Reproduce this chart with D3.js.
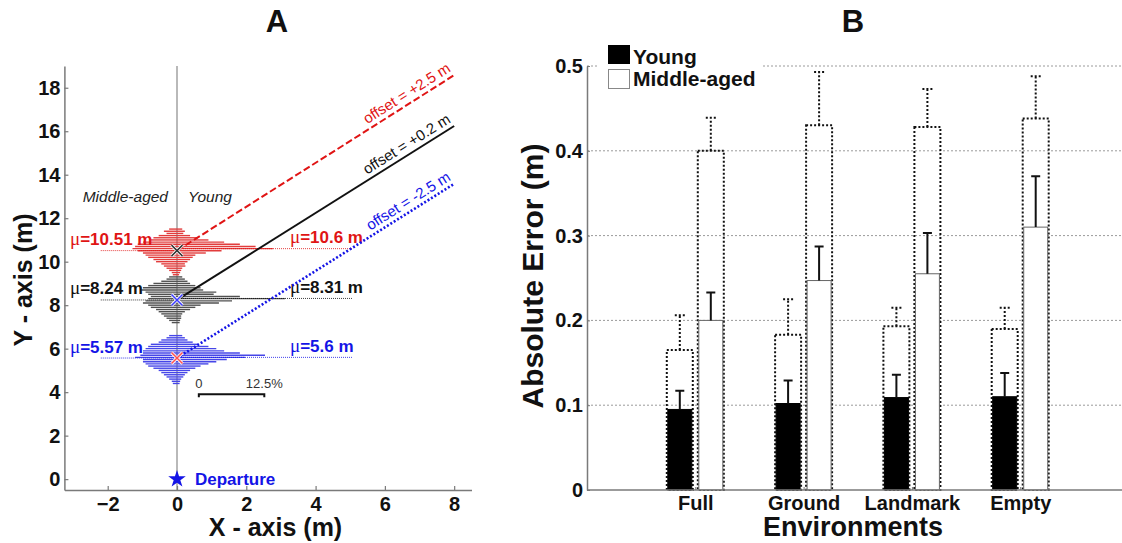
<!DOCTYPE html>
<html>
<head>
<meta charset="utf-8">
<script src="https://cdn.jsdelivr.net/npm/d3@7"></script>
<style>
  body { margin: 0; background: #fff; }
  svg { display: block; }
  text { font-family: "Liberation Sans", Arial, Helvetica, sans-serif; }
</style>
</head>
<body>
<svg id="chart" width="1122" height="543"></svg>
<script>
// ================= Panel A: stopping-point distributions =================
// Histogram bins (m along Y axis) and share of trials (%) per age group
const farBins    = [11.5,11.4,11.3,11.2,11.1,11.0,10.9,10.8,10.7,10.6,10.5,10.4,10.3,10.2,10.1,10.0,9.9,9.8,9.7,9.6,9.5,9.4];
const farYoung   = [1.0,1.5,1.2,2.5,4.0,6.0,9.0,12.0,15.0,18.3,8.5,5.5,3.5,3.0,2.5,2.0,1.5,1.6,1.0,0.8,0.6,0.4];
const farMiddle  = [1.5,2.5,2.0,3.5,4.5,5.0,6.5,7.5,8.0,8.5,7.5,6.5,6.0,5.5,4.5,4.0,3.0,2.5,2.0,1.5,1.0,0.8];

const midBins    = [9.3,9.2,9.1,9.0,8.9,8.8,8.7,8.6,8.5,8.4,8.3,8.2,8.1,8.0,7.9,7.8,7.7,7.6,7.5,7.4,7.3,7.2];
const midYoung   = [1.0,1.5,2.0,2.5,3.5,4.5,5.0,7.5,7.0,12.0,20.6,10.5,8.0,4.5,3.5,2.5,1.5,1.0,0.8,0.8,0.6,0.5];
const midMiddle  = [1.5,2.0,3.0,4.5,5.5,6.5,6.8,6.0,5.5,5.0,5.5,6.0,6.5,5.5,5.0,4.0,3.5,3.0,2.5,2.0,1.5,1.0];

const nearBins   = [6.6,6.5,6.4,6.3,6.2,6.1,6.0,5.9,5.8,5.7,5.6,5.5,5.4,5.3,5.2,5.1,5.0,4.9,4.8,4.7,4.6,4.5,4.4];
const nearYoung  = [1.0,1.5,2.0,3.0,4.0,6.0,7.5,9.0,12.0,16.8,13.0,9.5,7.5,6.0,4.5,3.5,2.5,2.0,1.5,1.2,0.8,0.6,0.5];
const nearMiddle = [1.5,2.0,3.0,3.5,5.0,5.5,6.0,6.5,6.5,7.0,8.0,6.5,6.5,6.0,5.5,4.5,3.5,3.0,2.5,2.0,1.5,1.0,0.8];

// Means (m) for each group, and the guide line drawn from each mean
const meansMiddle  = [10.51, 8.24, 5.57];
const meansYoung   = [10.6, 8.31, 5.6];
const labelsMiddle = ["10.51 m", "8.24 m", "5.57 m"];
const labelsYoung  = ["10.6 m", "8.31 m", "5.6 m"];
const guideEndY    = [18.58, 16.24, 13.58];   // y at x = 8 m
const offsetLabels = ["offset = +2.5 m", "offset = +0.2 m", "offset = -2.5 m"];

const ticksAX = [-2, 0, 2, 4, 6, 8];
const ticksAY = [0, 2, 4, 6, 8, 10, 12, 14, 16, 18];

// ================= Panel B: absolute error by environment =================
const environments     = ["Full", "Ground", "Landmark", "Empty"];
const youngMean        = [0.095, 0.102, 0.109, 0.110];
const youngSE          = [0.022, 0.027, 0.027, 0.028];
const youngMeanOutline = [0.165, 0.183, 0.193, 0.190];
const youngSEOutline   = [0.041, 0.042, 0.022, 0.025];
const middleMean        = [0.200, 0.247, 0.255, 0.310];
const middleSE          = [0.033, 0.040, 0.048, 0.060];
const middleMeanOutline = [0.400, 0.430, 0.428, 0.438];
const middleSEOutline   = [0.039, 0.063, 0.045, 0.050];
const ticksB      = [0, 0.1, 0.2, 0.3, 0.4, 0.5];
const tickLabelsB = ["0", "0.1", "0.2", "0.3", "0.4", "0.5"];

// ---------------------------------------------------------------------------
const svg = d3.select("#chart");
const RED = "#e01414", BLUE = "#1414e6", BLACK = "#111";
const AXIS = "#7a7a7a";

// ---------- Panel A ----------
const xA = d3.scaleLinear().domain([-3.25, 8.5]).range([64.4, 471.5]);
const yA = d3.scaleLinear().domain([-0.5, 19]).range([490, 66]);
// histogram length: 12.5 % of trials spans 1.89 m on the X axis
const hx = d3.scaleLinear().domain([0, 12.5]).range([0, 1.89]);

const gA = svg.append("g");

// central walking line (x = 0)
gA.append("line")
  .attr("x1", xA(0)).attr("x2", xA(0))
  .attr("y1", yA(19)).attr("y2", yA(-0.5))
  .attr("stroke", "#8a8a8a").attr("stroke-width", 1.2);

const hists = [
  { bins: farBins,  young: farYoung,  middle: farMiddle,  color: "#e23c3c" },
  { bins: midBins,  young: midYoung,  middle: midMiddle,  color: "#505050" },
  { bins: nearBins, young: nearYoung, middle: nearMiddle, color: "#4646e8" }
];

hists.forEach(h => {
  const g = gA.append("g");
  g.selectAll("line.y").data(h.bins).join("line")
    .attr("x1", xA(0))
    .attr("x2", (d, i) => xA(hx(h.young[i])))
    .attr("y1", d => yA(d)).attr("y2", d => yA(d))
    .attr("stroke", h.color).attr("stroke-width", 1.4);
  g.selectAll("line.m").data(h.bins).join("line")
    .attr("x1", xA(0))
    .attr("x2", (d, i) => xA(-hx(h.middle[i])))
    .attr("y1", d => yA(d)).attr("y2", d => yA(d))
    .attr("stroke", h.color).attr("stroke-width", 1.4);
});

const seriesColors = [RED, BLACK, BLUE];
const guideDash = ["7,3", null, "2,2"];
const markerColors = ["#333", "#3a3aff", "#ff5050"];

meansMiddle.forEach((m, i) => {
  const c = seriesColors[i];
  // dotted mean lines
  gA.append("line")
    .attr("x1", xA(-2.2)).attr("x2", xA(0))
    .attr("y1", yA(m)).attr("y2", yA(m))
    .attr("stroke", c).attr("stroke-width", 1).attr("stroke-dasharray", "1,1").attr("opacity", 0.8);
  gA.append("line")
    .attr("x1", xA(0)).attr("x2", xA(5.05))
    .attr("y1", yA(meansYoung[i])).attr("y2", yA(meansYoung[i]))
    .attr("stroke", c).attr("stroke-width", 1).attr("stroke-dasharray", "1,1").attr("opacity", 0.8);

  // mean labels
  const tl = gA.append("text")
    .attr("x", xA(-3.09)).attr("y", yA(m) - 5.5)
    .attr("fill", c).attr("font-size", 17).attr("font-weight", "bold");
  tl.append("tspan").attr("font-family", "Liberation Serif, serif").attr("font-weight", "normal").attr("font-size", 19).text("μ");
  tl.append("tspan").text("=" + labelsMiddle[i]);
  const tr = gA.append("text")
    .attr("x", xA(3.26)).attr("y", yA(meansYoung[i]) - 5.5)
    .attr("fill", c).attr("font-size", 17).attr("font-weight", "bold");
  tr.append("tspan").attr("font-family", "Liberation Serif, serif").attr("font-weight", "normal").attr("font-size", 19).text("μ");
  tr.append("tspan").text("=" + labelsYoung[i]);

  // heading guide line
  gA.append("line")
    .attr("x1", xA(0)).attr("y1", yA(m))
    .attr("x2", xA(8)).attr("y2", yA(guideEndY[i]))
    .attr("stroke", c).attr("stroke-width", i === 2 ? 2.6 : 2)
    .attr("stroke-dasharray", guideDash[i]);

  const ang = Math.atan2(yA(guideEndY[i]) - yA(m), xA(8) - xA(0)) * 180 / Math.PI;
  gA.append("text")
    .attr("transform", `translate(${xA(8)},${yA(guideEndY[i])}) rotate(${ang})`)
    .attr("dy", -5).attr("text-anchor", "end")
    .attr("fill", c).attr("font-size", 15)
    .text(offsetLabels[i]);

  // mean position marker
  const mx = xA(0), my = yA(m), r = 5.5;
  [["#fff", 3.2], [markerColors[i], 1.5]].forEach(([col, w]) => {
    gA.append("path")
      .attr("d", `M${mx - r},${my - r}L${mx + r},${my + r}M${mx - r},${my + r}L${mx + r},${my - r}`)
      .attr("stroke", col).attr("stroke-width", w).attr("fill", "none");
  });
});

// group labels
gA.append("text").attr("x", xA(0) - 9).attr("y", yA(12.75))
  .attr("text-anchor", "end").attr("font-style", "italic").attr("font-size", 15.5).attr("fill", "#222")
  .text("Middle-aged");
gA.append("text").attr("x", xA(0) + 11).attr("y", yA(12.75))
  .attr("font-style", "italic").attr("font-size", 15.5).attr("fill", "#222")
  .text("Young");

// percentage scale bar
const sb0 = 0.63, sbY = 3.9;
gA.append("path")
  .attr("d", `M${xA(sb0)},${yA(sbY) + 3}V${yA(sbY)}H${xA(sb0 + hx(12.5))}V${yA(sbY) + 3}`)
  .attr("fill", "none").attr("stroke", "#111").attr("stroke-width", 2);
gA.append("text").attr("x", xA(sb0)).attr("y", yA(sbY) - 6).attr("text-anchor", "middle")
  .attr("font-size", 13).attr("fill", "#333").text("0");
gA.append("text").attr("x", xA(sb0 + hx(12.5))).attr("y", yA(sbY) - 6).attr("text-anchor", "middle")
  .attr("font-size", 13).attr("fill", "#333").text("12.5%");

// departure
gA.append("path")
  .attr("transform", `translate(${xA(0)},${yA(0)})`)
  .attr("d", d3.symbol(d3.symbolStar, 95)())
  .attr("fill", BLUE);
gA.append("text").attr("x", xA(0) + 18).attr("y", yA(0) + 6)
  .attr("font-size", 17).attr("font-weight", "bold").attr("fill", BLUE).text("Departure");

// axes A
const axAX = gA.append("g").attr("transform", `translate(0,${yA(-0.5)})`)
  .call(d3.axisBottom(xA).tickValues(ticksAX).tickSize(-4).tickSizeOuter(0).tickPadding(7));
const axAY = gA.append("g").attr("transform", `translate(${xA(-3.25)},0)`)
  .call(d3.axisLeft(yA).tickValues(ticksAY).tickSize(-4).tickSizeOuter(0).tickPadding(4));
[axAX, axAY].forEach(a => {
  a.select(".domain").attr("stroke", AXIS).attr("stroke-width", 1.5);
  a.selectAll(".tick line").attr("stroke", AXIS).attr("stroke-width", 1.2);
  a.selectAll(".tick text").attr("font-size", 20).attr("font-weight", "bold").attr("fill", "#111")
    .attr("font-family", "Liberation Sans, Arial, sans-serif");
});

gA.append("text").attr("x", 275.5).attr("y", 536).attr("text-anchor", "middle")
  .attr("font-size", 25).attr("font-weight", "bold").attr("fill", "#111").text("X - axis (m)");
gA.append("text").attr("transform", "translate(32,280) rotate(-90)").attr("text-anchor", "middle")
  .attr("font-size", 25).attr("font-weight", "bold").attr("fill", "#111").text("Y - axis (m)");
gA.append("text").attr("x", 277).attr("y", 32).attr("text-anchor", "middle")
  .attr("font-size", 31).attr("font-weight", "bold").attr("fill", "#111").text("A");

// ---------- Panel B ----------
const xB = d3.scaleLinear().domain([0, 5]).range([587, 1128.5]);
const yB = d3.scaleLinear().domain([0, 0.5]).range([490, 66]);
const gB = svg.append("g");
const clip = svg.append("clipPath").attr("id", "clipB");
clip.append("rect").attr("x", 587).attr("y", 0).attr("width", 1122 - 587).attr("height", 543);

// grid
gB.append("g").attr("clip-path", "url(#clipB)")
  .selectAll("line").data(ticksB.slice(1)).join("line")
  .attr("x1", xB(0)).attr("x2", xB(5))
  .attr("y1", d => yB(d)).attr("y2", d => yB(d))
  .attr("stroke", "#9a9a9a").attr("stroke-width", 1).attr("stroke-dasharray", "2,2");

const BW = 26;
const youngX  = i => xB(i + 1) - 28.5;
const middleX = i => xB(i + 1) + 2.5;

const groups = [
  { x: youngX,  mean: youngMean,  se: youngSE,  out: youngMeanOutline,  seOut: youngSEOutline,  fill: "#000", stroke: "#000" },
  { x: middleX, mean: middleMean, se: middleSE, out: middleMeanOutline, seOut: middleSEOutline, fill: "#fff", stroke: "#666" }
];

groups.forEach(gr => {
  // dotted outline bars with dotted error bars
  gB.selectAll(null).data(environments).join("rect")
    .attr("x", (d, i) => gr.x(i)).attr("width", BW)
    .attr("y", (d, i) => yB(gr.out[i])).attr("height", (d, i) => yB(0) - yB(gr.out[i]))
    .attr("fill", "none").attr("stroke", "#111").attr("stroke-width", 2).attr("stroke-dasharray", "2,2");
  gB.selectAll(null).data(environments).join("path")
    .attr("d", (d, i) => {
      const cx = gr.x(i) + BW / 2, y0 = yB(gr.out[i]), y1 = yB(gr.out[i] + gr.seOut[i]);
      return `M${cx},${y0}V${y1}M${cx - 5},${y1}H${cx + 5}`;
    })
    .attr("fill", "none").attr("stroke", "#111").attr("stroke-width", 2).attr("stroke-dasharray", "2,2");
  // solid bars with error bars
  gB.selectAll(null).data(environments).join("rect")
    .attr("x", (d, i) => gr.x(i) + 1).attr("width", BW - 2)
    .attr("y", (d, i) => yB(gr.mean[i])).attr("height", (d, i) => yB(0) - yB(gr.mean[i]))
    .attr("fill", gr.fill).attr("stroke", gr.stroke).attr("stroke-width", 1);
  gB.selectAll(null).data(environments).join("path")
    .attr("d", (d, i) => {
      const cx = gr.x(i) + BW / 2, y0 = yB(gr.mean[i]), y1 = yB(gr.mean[i] + gr.se[i]);
      return `M${cx},${y0}V${y1}M${cx - 4.5},${y1}H${cx + 4.5}`;
    })
    .attr("fill", "none").attr("stroke", "#111").attr("stroke-width", 2);
});

// axes B
const axBY = gB.append("g").attr("transform", `translate(${xB(0)},0)`)
  .call(d3.axisLeft(yB).tickValues(ticksB).tickFormat((d, i) => tickLabelsB[i]).tickSize(-3).tickSizeOuter(0).tickPadding(4));
const axBX = gB.append("g").attr("transform", `translate(0,${yB(0)})`)
  .call(d3.axisBottom(xB).tickValues([1, 2, 3, 4]).tickFormat((d, i) => environments[i]).tickSize(-3).tickSizeOuter(0).tickPadding(6));
axBX.select(".domain").attr("d", `M${xB(0)},0H1122`);
[axBX, axBY].forEach(a => {
  a.select(".domain").attr("stroke", AXIS).attr("stroke-width", 1.5);
  a.selectAll(".tick line").attr("stroke", AXIS);
  a.selectAll(".tick text").attr("font-size", 20).attr("font-weight", "bold").attr("fill", "#111")
    .attr("font-family", "Liberation Sans, Arial, sans-serif");
});

gB.append("text").attr("transform", "translate(543,276) rotate(-90)").attr("text-anchor", "middle")
  .attr("font-size", 30).attr("font-weight", "bold").attr("fill", "#111").text("Absolute Error (m)");
gB.append("text").attr("x", 853).attr("y", 536).attr("text-anchor", "middle")
  .attr("font-size", 27).attr("font-weight", "bold").attr("fill", "#111").text("Environments");
gB.append("text").attr("x", 853).attr("y", 32).attr("text-anchor", "middle")
  .attr("font-size", 31).attr("font-weight", "bold").attr("fill", "#111").text("B");

// legend
const lg = gB.append("g");
lg.append("rect").attr("x", 598).attr("y", 40).attr("width", 164).attr("height", 52).attr("fill", "#fff");
lg.append("rect").attr("x", 608).attr("y", 45).attr("width", 22).attr("height", 19).attr("fill", "#000");
lg.append("rect").attr("x", 608.5).attr("y", 69.5).attr("width", 21).attr("height", 19)
  .attr("fill", "#fff").attr("stroke", "#888");
lg.append("text").attr("x", 633).attr("y", 64).attr("font-size", 21).attr("font-weight", "bold").attr("fill", "#111").text("Young");
lg.append("text").attr("x", 633).attr("y", 86).attr("font-size", 21).attr("font-weight", "bold").attr("fill", "#111").text("Middle-aged");
</script>
</body>
</html>
